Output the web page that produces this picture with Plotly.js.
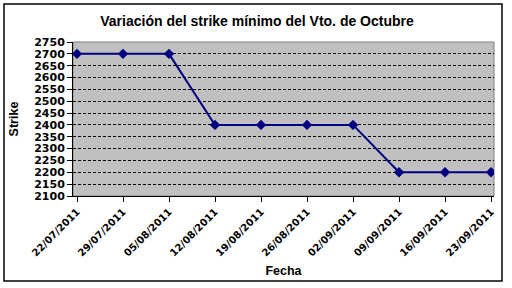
<!DOCTYPE html>
<html><head><meta charset="utf-8">
<script src="https://cdn.plot.ly/plotly-3.0.1.min.js"></script>
<style>html,body{margin:0;padding:0;background:#fff;}#chart{width:512px;height:288px;}</style>
</head><body><div id="chart"></div>
<script>
const fechas = ["22/07/2011","29/07/2011","05/08/2011","12/08/2011","19/08/2011","26/08/2011","02/09/2011","09/09/2011","16/09/2011","23/09/2011"];
const strikes = [2700,2700,2700,2400,2400,2400,2400,2200,2200,2200];
const titulo = "Variación del strike mínimo del Vto. de Octubre";
const ejeX = "Fecha";
const ejeY = "Strike";

const font = "Arial, 'Liberation Sans', sans-serif";
const tickFont = "'DejaVu Sans', Verdana, sans-serif";
const trace = {
  x: fechas, y: strikes, type: "scatter", mode: "lines+markers",
  line: {color: "#000080", width: 2},
  marker: {symbol: "diamond", size: 8, color: "#000080"},
  hoverinfo: "skip"
};
const layout = {
  width: 512, height: 288,
  margin: {l: 73, r: 18, t: 42, b: 92, pad: 0},
  paper_bgcolor: "#ffffff", plot_bgcolor: "#c0c0c0",
  showlegend: false,
  font: {family: font, size: 12, color: "#000"},
  title: {text: "<b>" + titulo + "</b>", font: {family: font, size: 14, color: "#000"}, x: 0.502, xanchor: "center", y: 0.928, yanchor: "middle"},
  xaxis: {
    type: "category", range: [-0.087, 9.065],
    showgrid: false, zeroline: false,
    showline: true, linecolor: "#000", linewidth: 1,
    ticks: "outside", ticklen: 5, tickcolor: "#000",
    tickangle: -45, tickfont: {family: tickFont, size: 10, color: "#000", weight: "bold"},
    title: {text: "<b>" + ejeX + "</b>", font: {family: font, size: 12.5, color: "#000"}, standoff: 8}
  },
  yaxis: {
    range: [2100, 2750], dtick: 50, tick0: 2100,
    showgrid: true, gridcolor: "#000", gridwidth: 1, griddash: "3px,2px",
    zeroline: false, showline: true, linecolor: "#000", linewidth: 1,
    ticks: "outside", ticklen: 5, tickcolor: "#000",
    tickfont: {family: tickFont, size: 11, color: "#000", weight: "bold"},
    title: {text: "<b>" + ejeY + "</b>", font: {family: font, size: 12.5, color: "#000"}, standoff: 12}
  },
  shapes: [
    {type: "rect", xref: "paper", yref: "paper", x0: 0, x1: 1, y0: 0, y1: 1, line: {color: "#808080", width: 1}, layer: "below"},
    {type: "rect", xref: "paper", yref: "paper", x0: -0.1639, x1: 1.019, y0: -0.552, y1: 1.247, line: {color: "#000", width: 1.5}}
  ]
};
Plotly.newPlot("chart", [trace], layout, {staticPlot: true, displayModeBar: false});
</script></body></html>
